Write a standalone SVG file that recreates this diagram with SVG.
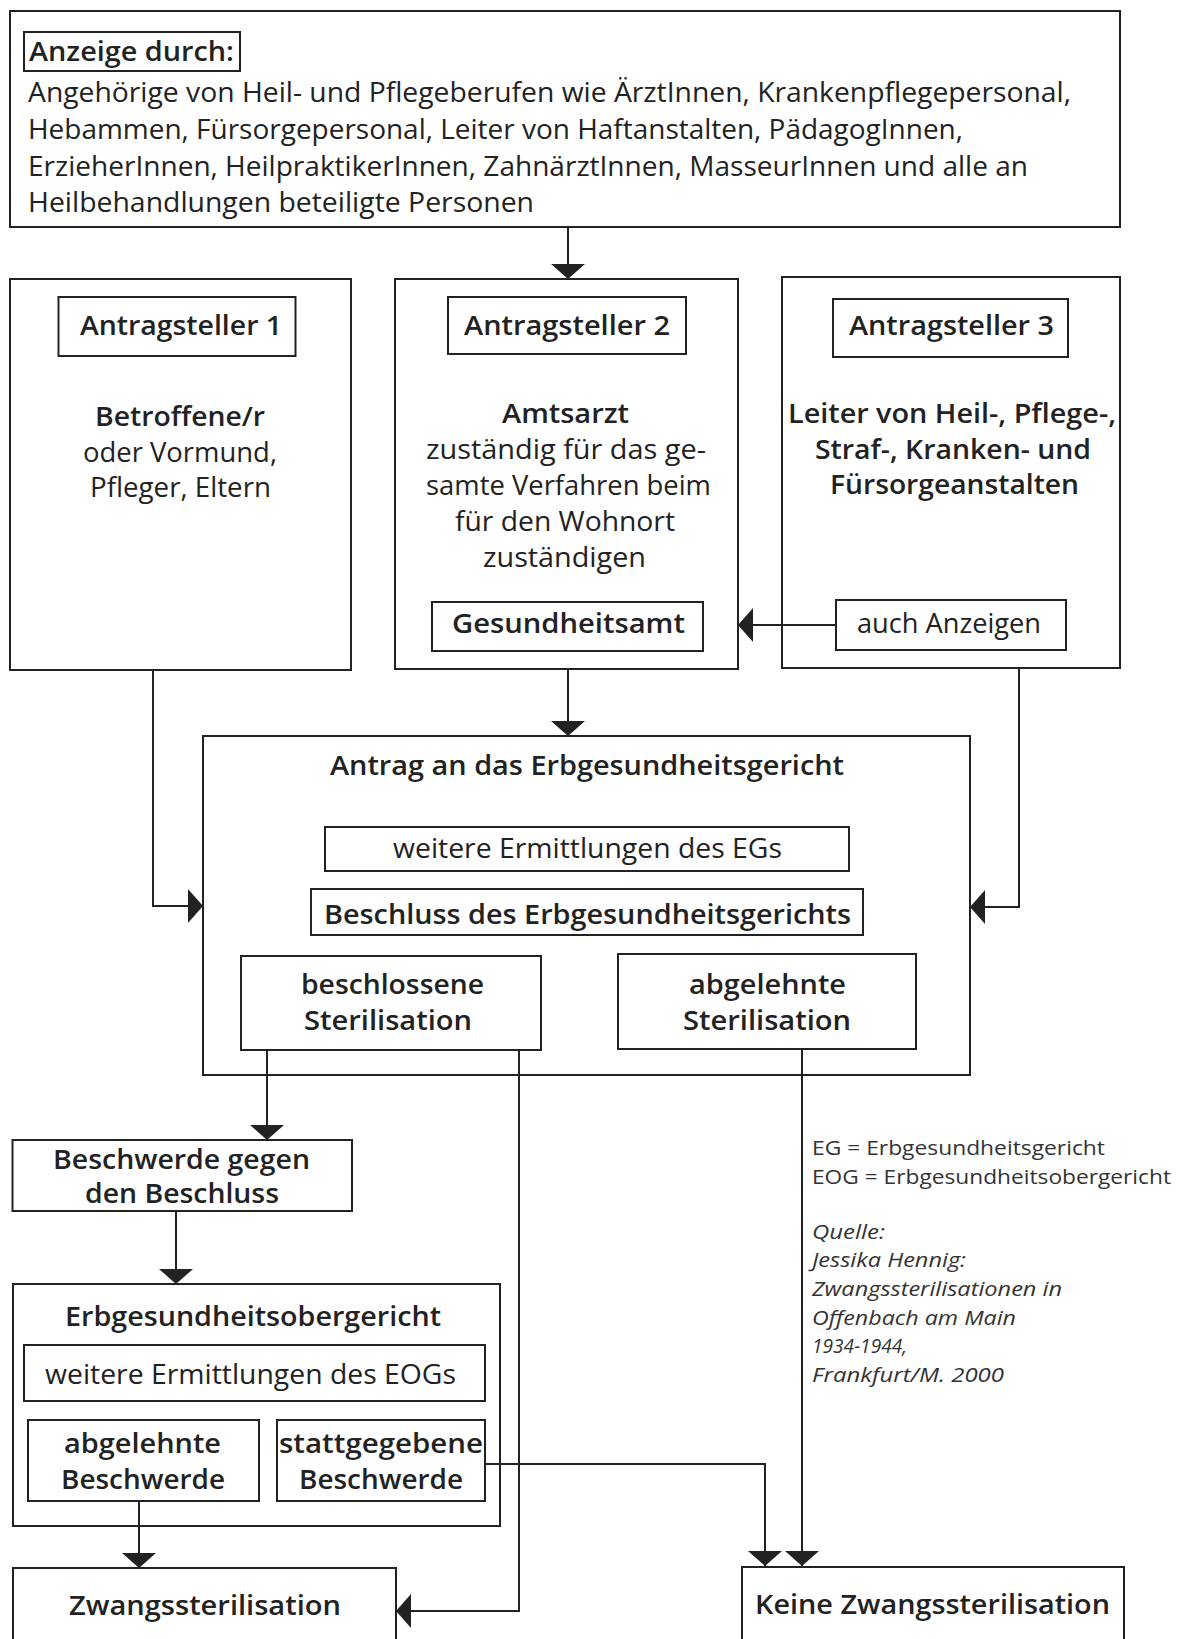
<svg xmlns="http://www.w3.org/2000/svg" width="1181" height="1639" viewBox="0 0 1181 1639">
<style>
.box{fill:none;stroke:#222;stroke-width:2}
.bg{fill:#fff}
.t{font-family:'Open Sans','Liberation Sans',sans-serif;fill:#222;font-size:27px}
.b{font-weight:600}
.s{font-size:20px;fill:#333}
.i{font-style:italic}
.conn{fill:none;stroke:#222;stroke-width:2;marker-end:url(#ah)}
</style>
<defs>
<marker id="ah" markerUnits="userSpaceOnUse" markerWidth="15" markerHeight="34" viewBox="0 0 15 34" refX="15" refY="17" orient="auto">
<path d="M0,0 L15,17 L0,34 Z" fill="#222"/>
</marker>
</defs>
<rect class="bg" x="0" y="0" width="1181" height="1639"/>

<g id="connectors">
<path class="conn" d="M568,228 V279"/>
<path class="conn" d="M568,669 V736"/>
<path class="conn" d="M836,625 H738"/>
<path class="conn" d="M153,670 V906 H203"/>
<path class="conn" d="M1019,668 V907 H970"/>
<path class="conn" d="M267,1050 V1140"/>
<path class="conn" d="M519,1050 V1611 H396"/>
<path class="conn" d="M802,1049 V1566"/>
<path class="conn" d="M176,1211 V1284"/>
<path class="conn" d="M139,1501 V1568"/>
<path class="conn" d="M485,1464 H765 V1566"/>
</g>

<g id="anzeige">
<rect class="box" x="10" y="11" width="1110" height="216"/>
<rect class="box" x="24" y="32" width="216" height="39"/>
<text class="t b" x="29" y="61" font-size="29" textLength="205" lengthAdjust="spacingAndGlyphs">Anzeige durch:</text>
<text class="t" x="28" y="102" textLength="1043" lengthAdjust="spacingAndGlyphs">Angehörige von Heil- und Pflegeberufen wie ÄrztInnen, Krankenpflegepersonal,</text>
<text class="t" x="28" y="139" textLength="935" lengthAdjust="spacingAndGlyphs">Hebammen, Fürsorgepersonal, Leiter von Haftanstalten, PädagogInnen,</text>
<text class="t" x="28" y="176" textLength="1000" lengthAdjust="spacingAndGlyphs">ErzieherInnen, HeilpraktikerInnen, ZahnärztInnen, MasseurInnen und alle an</text>
<text class="t" x="28" y="212" textLength="506" lengthAdjust="spacingAndGlyphs">Heilbehandlungen beteiligte Personen</text>
</g>

<g id="antragsteller1">
<rect class="box" x="10" y="279" width="341" height="391"/>
<rect class="box" x="58.5" y="297" width="237" height="59"/>
<text class="t b" x="80" y="335" font-size="28" textLength="202" lengthAdjust="spacingAndGlyphs">Antragsteller 1</text>
<text class="t b" x="95" y="426" textLength="170" lengthAdjust="spacingAndGlyphs">Betroffene/r</text>
<text class="t" x="83" y="462" textLength="194" lengthAdjust="spacingAndGlyphs">oder Vormund,</text>
<text class="t" x="90" y="497" textLength="181" lengthAdjust="spacingAndGlyphs">Pfleger, Eltern</text>
</g>

<g id="antragsteller2">
<rect class="box" x="395" y="279" width="343" height="390"/>
<rect class="box" x="448" y="297" width="238" height="57"/>
<text class="t b" x="464" y="335" font-size="28" textLength="206" lengthAdjust="spacingAndGlyphs">Antragsteller 2</text>
<text class="t b" x="502" y="423" textLength="127" lengthAdjust="spacingAndGlyphs">Amtsarzt</text>
<text class="t" x="426" y="459" textLength="280" lengthAdjust="spacingAndGlyphs">zuständig für das ge-</text>
<text class="t" x="426" y="495" textLength="285" lengthAdjust="spacingAndGlyphs">samte Verfahren beim</text>
<text class="t" x="455" y="531" textLength="220" lengthAdjust="spacingAndGlyphs">für den Wohnort</text>
<text class="t" x="483" y="567" textLength="163" lengthAdjust="spacingAndGlyphs">zuständigen</text>
</g>

<g id="gesundheitsamt">
<rect class="box" x="432" y="602" width="271" height="49"/>
<text class="t b" x="452" y="633" font-size="27" textLength="233" lengthAdjust="spacingAndGlyphs">Gesundheitsamt</text>
</g>

<g id="antragsteller3">
<rect class="box" x="782" y="277" width="338" height="391"/>
<rect class="box" x="833" y="299" width="235" height="58"/>
<text class="t b" x="849" y="335" font-size="28" textLength="205" lengthAdjust="spacingAndGlyphs">Antragsteller 3</text>
<text class="t b" x="788" y="423" textLength="328" lengthAdjust="spacingAndGlyphs">Leiter von Heil-, Pflege-,</text>
<text class="t b" x="815" y="459" textLength="276" lengthAdjust="spacingAndGlyphs">Straf-, Kranken- und</text>
<text class="t b" x="830" y="494" textLength="249" lengthAdjust="spacingAndGlyphs">Fürsorgeanstalten</text>
</g>

<g id="auch-anzeigen">
<rect class="box" x="836" y="600" width="230" height="50"/>
<text class="t" x="857" y="633" textLength="184" lengthAdjust="spacingAndGlyphs">auch Anzeigen</text>
</g>

<g id="antrag-eg">
<rect class="box" x="203" y="736" width="767" height="339"/>
<text class="t b" x="330" y="775" font-size="28" textLength="514" lengthAdjust="spacingAndGlyphs">Antrag an das Erbgesundheitsgericht</text>
</g>

<g id="ermittlungen-eg">
<rect class="box" x="325" y="827" width="524" height="44"/>
<text class="t" x="393" y="858" textLength="389" lengthAdjust="spacingAndGlyphs">weitere Ermittlungen des EGs</text>
</g>

<g id="beschluss-eg">
<rect class="box" x="311" y="889" width="552" height="46"/>
<text class="t b" x="324" y="924" font-size="28" textLength="527" lengthAdjust="spacingAndGlyphs">Beschluss des Erbgesundheitsgerichts</text>
</g>

<g id="beschlossene-sterilisation">
<rect class="box" x="241" y="956" width="300" height="94"/>
<text class="t b" x="301" y="994" textLength="183" lengthAdjust="spacingAndGlyphs">beschlossene</text>
<text class="t b" x="304" y="1030" textLength="168" lengthAdjust="spacingAndGlyphs">Sterilisation</text>
</g>

<g id="abgelehnte-sterilisation">
<rect class="box" x="618" y="954" width="298" height="95"/>
<text class="t b" x="689" y="994" textLength="157" lengthAdjust="spacingAndGlyphs">abgelehnte</text>
<text class="t b" x="683" y="1030" textLength="168" lengthAdjust="spacingAndGlyphs">Sterilisation</text>
</g>

<g id="beschwerde">
<rect class="box" x="12.5" y="1140" width="339.5" height="71"/>
<text class="t b" x="53" y="1169" textLength="257" lengthAdjust="spacingAndGlyphs">Beschwerde gegen</text>
<text class="t b" x="85" y="1203" textLength="194" lengthAdjust="spacingAndGlyphs">den Beschluss</text>
</g>

<g id="eog">
<rect class="box" x="13" y="1284" width="487" height="242"/>
<text class="t b" x="65" y="1326" textLength="376" lengthAdjust="spacingAndGlyphs">Erbgesundheitsobergericht</text>
</g>

<g id="ermittlungen-eog">
<rect class="box" x="24" y="1345" width="461" height="56"/>
<text class="t" x="45" y="1384" textLength="411" lengthAdjust="spacingAndGlyphs">weitere Ermittlungen des EOGs</text>
</g>

<g id="abgelehnte-beschwerde">
<rect class="box" x="28" y="1420" width="231" height="81"/>
<text class="t b" x="64" y="1453" textLength="157" lengthAdjust="spacingAndGlyphs">abgelehnte</text>
<text class="t b" x="61" y="1489" textLength="164" lengthAdjust="spacingAndGlyphs">Beschwerde</text>
</g>

<g id="stattgegebene-beschwerde">
<rect class="box" x="277" y="1420" width="208" height="81"/>
<text class="t b" x="279" y="1453" textLength="204" lengthAdjust="spacingAndGlyphs">stattgegebene</text>
<text class="t b" x="299" y="1489" textLength="164" lengthAdjust="spacingAndGlyphs">Beschwerde</text>
</g>

<g id="zwangssterilisation">
<rect class="box" x="13" y="1568" width="383" height="100"/>
<text class="t b" x="69" y="1615" font-size="28" textLength="272" lengthAdjust="spacingAndGlyphs">Zwangssterilisation</text>
</g>

<g id="keine-zwangssterilisation">
<rect class="box" x="742" y="1567" width="382" height="100"/>
<text class="t b" x="755" y="1614" font-size="28" textLength="355" lengthAdjust="spacingAndGlyphs">Keine Zwangssterilisation</text>
</g>

<g id="legende">
<text class="t s" x="812" y="1155" textLength="293" lengthAdjust="spacingAndGlyphs">EG = Erbgesundheitsgericht</text>
<text class="t s" x="812" y="1184" textLength="359" lengthAdjust="spacingAndGlyphs">EOG = Erbgesundheitsobergericht</text>
<text class="t s i" x="812" y="1239" textLength="73" lengthAdjust="spacingAndGlyphs">Quelle:</text>
<text class="t s i" x="812" y="1267" textLength="154" lengthAdjust="spacingAndGlyphs">Jessika Hennig:</text>
<text class="t s i" x="812" y="1296" textLength="250" lengthAdjust="spacingAndGlyphs">Zwangssterilisationen in</text>
<text class="t s i" x="812" y="1325" textLength="204" lengthAdjust="spacingAndGlyphs">Offenbach am Main</text>
<text class="t s i" x="812" y="1353" textLength="95" lengthAdjust="spacingAndGlyphs">1934-1944,</text>
<text class="t s i" x="812" y="1382" textLength="192" lengthAdjust="spacingAndGlyphs">Frankfurt/M. 2000</text>
</g>
</svg>
